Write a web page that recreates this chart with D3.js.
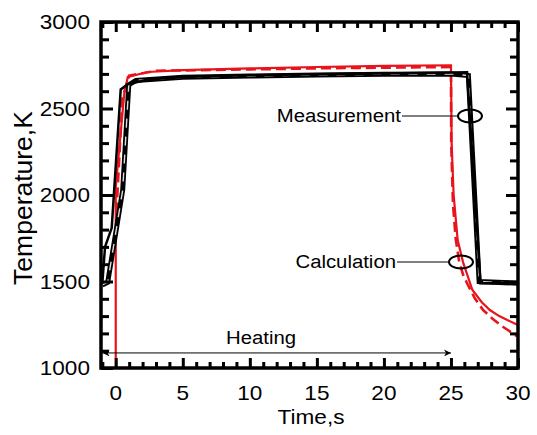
<!DOCTYPE html>
<html>
<head>
<meta charset="utf-8">
<script src="https://cdn.jsdelivr.net/npm/d3@7"></script>
<style>
  body { margin: 0; background: #fff; }
  svg text { font-family: "Liberation Sans", Arial, sans-serif; fill: #000; }
</style>
</head>
<body>
<div id="chart"></div>
<script>
// time in s, temperature in K
const measSolid = [
  [-1.0, 1490], [-0.8, 1700], [-0.3, 1810], [0.37, 2610], [0.9, 2640], [2.4, 2668],
  [5, 2682], [10, 2692], [15, 2698], [20, 2703], [25, 2708], [26.2, 2710],
  [27.2, 1490], [30, 1490]
];
const measDashed = [
  [-1.0, 1480], [-0.6, 1495], [0.52, 2030], [0.97, 2636], [1.5, 2662], [5, 2680],
  [10, 2688], [15, 2694], [20, 2698], [25, 2700], [26.3, 2690], [27.1, 1500], [30, 1490]
];
const calcSolid = [
  [0, 1000], [0, 2046], [0.64, 2590], [0.9, 2682], [2.4, 2711], [5, 2722],
  [10, 2732], [15, 2740], [20, 2746], [25, 2750],
  [25.05, 2300], [25.2, 2000], [25.5, 1740], [25.9, 1612], [26.6, 1451],
  [27.3, 1380], [27.9, 1335], [28.6, 1300], [29.2, 1277], [30, 1249]
];
const calcDashed = [
  [0.05, 1900], [0.5, 2560], [1.0, 2690], [3, 2718], [10, 2726], [15, 2732],
  [20, 2736], [25, 2740],
  [25.02, 2300], [25.15, 1950], [25.35, 1750], [25.6, 1620], [25.9, 1540],
  [26.2, 1490], [26.8, 1400], [27.4, 1335], [28.1, 1285], [28.9, 1237], [30, 1180]
];
const xMajor = [0, 5, 10, 15, 20, 25, 30];
const yMajor = [1000, 1500, 2000, 2500, 3000];
const xMinor = d3.range(-1, 31, 1).filter(v => !xMajor.includes(v));
const yMinor = d3.range(1000, 3001, 100).filter(v => !yMajor.includes(v));

const W = 537, H = 435;
const pL = 101, pR = 518, pT = 22, pB = 368;
const red = "#e8141c";
const SX = 1.13; // source picture is slightly stretched horizontally

const svg = d3.select("#chart").append("svg")
  .attr("width", W).attr("height", H);

const x = d3.scaleLinear().domain([-1.1, 30]).range([pL, pR]);
const y = d3.scaleLinear().domain([1000, 3000]).range([pB, pT]);

const line = d3.line().x(d => x(d[0])).y(d => y(d[1]));

// stretched horizontal text
function label(px, py, txt, size, anchor) {
  return svg.append("text")
    .attr("transform", `translate(${px},${py}) scale(${SX},1)`)
    .attr("text-anchor", anchor || "middle")
    .attr("font-size", size)
    .text(txt);
}

svg.append("clipPath").attr("id", "clip")
  .append("rect").attr("x", pL).attr("y", pT)
  .attr("width", pR - pL).attr("height", pB - pT);

const plot = svg.append("g").attr("clip-path", "url(#clip)");

// heating arrow
svg.append("defs").append("marker").attr("id", "arr")
  .attr("viewBox", "0 0 10 10").attr("refX", 10).attr("refY", 5)
  .attr("markerWidth", 9).attr("markerHeight", 7)
  .attr("markerUnits", "userSpaceOnUse")
  .attr("orient", "auto-start-reverse")
  .append("path").attr("d", "M0,0 L10,5 L0,10 L3,5 Z").attr("fill", "#000");

svg.append("line")
  .attr("x1", x(-0.98)).attr("x2", x(25))
  .attr("y1", y(1087)).attr("y2", y(1087))
  .attr("stroke", "#000").attr("stroke-width", 1)
  .attr("marker-start", "url(#arr)").attr("marker-end", "url(#arr)");

label(261, 344, "Heating", 18);

// curves
plot.append("path").datum(calcSolid)
  .attr("d", line).attr("fill", "none")
  .attr("stroke", red).attr("stroke-width", 2.2);

plot.append("path").datum(calcDashed)
  .attr("d", line).attr("fill", "none")
  .attr("stroke", red).attr("stroke-width", 2.6)
  .attr("stroke-dasharray", "10,5");

plot.append("path").datum(measDashed)
  .attr("d", line).attr("fill", "none")
  .attr("stroke", "#000").attr("stroke-width", 5);
plot.append("path").datum(measDashed)
  .attr("d", line).attr("fill", "none")
  .attr("stroke", "#ddd").attr("stroke-width", 1.4)
  .attr("stroke-dasharray", "9,9");

plot.append("path").datum(measSolid)
  .attr("d", line).attr("fill", "none")
  .attr("stroke", "#000").attr("stroke-width", 2.5);

// callouts
function callout(txt, tx, ty, cx, cy) {
  label(tx, ty + 6, txt, 18, "end");
  svg.append("line")
    .attr("x1", tx + 1).attr("x2", cx - 12)
    .attr("y1", ty).attr("y2", ty)
    .attr("stroke", "#000").attr("stroke-width", 1);
  svg.append("ellipse")
    .attr("cx", cx).attr("cy", cy).attr("rx", 12).attr("ry", 6.5)
    .attr("fill", "none").attr("stroke", "#000").attr("stroke-width", 2);
}
callout("Measurement", 401, 116, 470, 116);
callout("Calculation", 396, 262, 461, 262);

// inward ticks on all four sides, drawn with d3 axes
function ticks(axisFn, scale, values, len, tr) {
  svg.append("g").attr("transform", tr)
    .call(axisFn(scale).tickValues(values).tickSize(-len).tickFormat(""))
    .call(g => g.select(".domain").remove())
    .selectAll("line").attr("stroke", "#000").attr("stroke-width", 3);
}
ticks(d3.axisBottom, x, xMinor, 6, `translate(0,${pB})`);
ticks(d3.axisBottom, x, xMajor, 10, `translate(0,${pB})`);
ticks(d3.axisTop, x, xMinor, 6, `translate(0,${pT})`);
ticks(d3.axisTop, x, xMajor, 10, `translate(0,${pT})`);
ticks(d3.axisLeft, y, yMinor, 8, `translate(${pL},0)`);
ticks(d3.axisLeft, y, yMajor, 12, `translate(${pL},0)`);
ticks(d3.axisRight, y, yMinor, 8, `translate(${pR},0)`);
ticks(d3.axisRight, y, yMajor, 12, `translate(${pR},0)`);

// frame
svg.append("rect")
  .attr("x", pL).attr("y", pT)
  .attr("width", pR - pL).attr("height", pB - pT)
  .attr("fill", "none").attr("stroke", "#000").attr("stroke-width", 3.5);

// tick labels
xMajor.forEach(v => label(x(v), 400, d3.format("d")(v), 20));
yMajor.forEach(v => label(90, y(v) + 7, d3.format("d")(v), 20, "end"));

label(311, 424, "Time,s", 20);

svg.append("text")
  .attr("transform", "translate(32,198) rotate(-90)")
  .attr("text-anchor", "middle").attr("font-size", 26.5)
  .text("Temperature,K");
</script>
</body>
</html>
